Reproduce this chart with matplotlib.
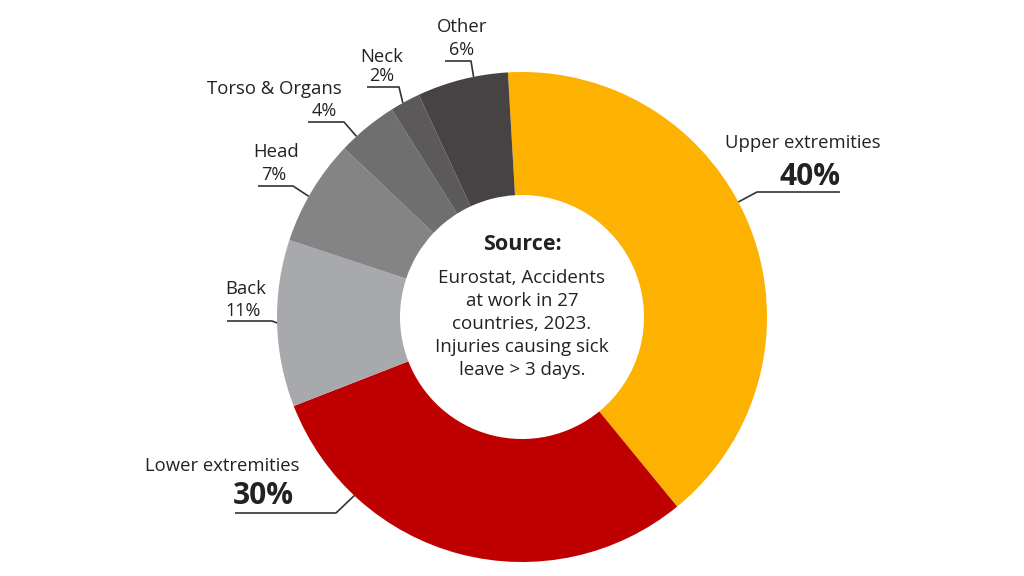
import numpy as np
import matplotlib
matplotlib.use("Agg")
import matplotlib.pyplot as plt

# share of accidents by injured body part
labels = ["Upper extremities", "Lower extremities", "Back", "Head",
          "Torso & Organs", "Neck", "Other"]
values = [40, 30, 11, 7, 4, 2, 6]
colors = ["#FDB100", "#BF0000", "#A8A9AC", "#848484", "#6F6F6F", "#5B595A", "#474344"]

plt.rcParams['font.family'] = ['Open Sans', 'DejaVu Sans']

W, H = 1024, 576
fig = plt.figure(figsize=(W / 100, H / 100), dpi=100)
ax = fig.add_axes([0, 0, 1, 1])
ax.set_aspect('equal')
ax.axis('off')

cx, cy = 522, H - 317
R = 245
wedges, _ = ax.pie(values, colors=colors, startangle=93.3, counterclock=False,
                   radius=R, center=(cx, cy),
                   wedgeprops=dict(width=R - 122, edgecolor='none'))
ax.set_xlim(0, W)
ax.set_ylim(0, H)

# label layout: (name x, name y, pct x, pct y, underline x0, x1, underline y, anchor angle, big)
layout = [
    (803, 143, 810, 177, 757, 840, 192, 28.0, True),
    (222, 466, 263, 496, 235, 336, 513, 226.8, True),
    (246, 289, 243, 311, 227, 272, 321, 181.4, False),
    (276, 152, 274, 175, 258, 293, 186, 150.5, False),
    (274, 89, 324, 111, 308, 344, 122, 132.5, False),
    (382, 57, 382, 76, 367, 399, 87, 119.1, False),
    (462, 27, 462, 50, 445, 471, 61, 101.4, False),
]

for name, val, lay in zip(labels, values, layout):
    nx, ny, px, py, ux0, ux1, uy, ang, big = lay
    ax_, ay_ = cx + R * np.cos(np.radians(ang)), cy + R * np.sin(np.radians(ang))
    elbow = ux0 if ax_ < ux0 else ux1
    far = ux1 if elbow == ux0 else ux0
    ax.plot([far, elbow, ax_], [H - uy, H - uy, ay_], color='#333333', lw=1.2,
            solid_capstyle='butt')
    ax.text(nx, H - ny, name, ha='center', va='center', fontsize=13.3, color='#222222')
    if big:
        ax.text(px, H - py, f"{val}%", ha='center', va='center', fontsize=21.5,
                fontweight='bold', color='#222222')
    else:
        ax.text(px, H - py, f"{val}%", ha='center', va='center', fontsize=13,
                color='#222222')

ax.text(cx, H - 245, "Source:", ha='center', va='center', fontsize=15.5,
        fontweight='bold', color='#222222')
body = ["Eurostat, Accidents", "at work in 27", "countries, 2023.",
        "Injuries causing sick", "leave > 3 days."]
for i, line in enumerate(body):
    ax.text(cx, H - (278 + 23 * i), line, ha='center', va='center', fontsize=13.5,
            color='#222222')

fig.savefig("out.png", dpi=100, facecolor='white')
